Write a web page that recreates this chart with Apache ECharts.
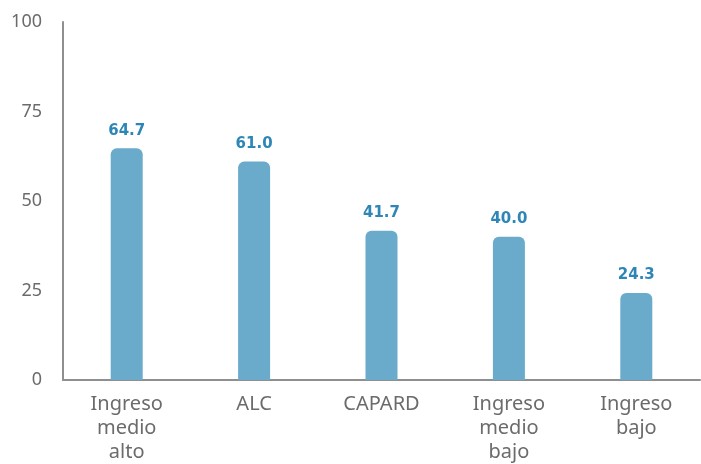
<!DOCTYPE html>
<html><head><meta charset="utf-8">
<script src="https://cdn.jsdelivr.net/npm/echarts@6/dist/echarts.min.js"></script>
<style>html,body{margin:0;padding:0;background:#fff}#c{width:701px;height:464px}</style>
</head><body><div id="c"></div>
<script>
const categories = ["Ingreso\nmedio\nalto", "ALC", "CAPARD", "Ingreso\nmedio\nbajo", "Ingreso\nbajo"];
const values = [64.7, 61.0, 41.7, 40.0, 24.3];
const yTicks = [0, 25, 50, 75, 100];

const chart = echarts.init(document.getElementById('c'), null, {renderer: 'canvas'});
chart.setOption({
  animation: false,
  grid: {left: 63, right: 1, top: 22, bottom: 80, containLabel: false},
  xAxis: {
    type: 'category', data: categories,
    axisLine: {lineStyle: {color: '#8f8f8f', width: 2}},
    axisTick: {show: false},
    axisLabel: {color: '#6b6b6b', fontSize: 20, fontFamily: 'Noto Sans', lineHeight: 24, margin: 12, interval: 0}
  },
  yAxis: {
    type: 'value', min: yTicks[0], max: yTicks[yTicks.length-1], interval: 25,
    axisLine: {show: true, lineStyle: {color: '#8f8f8f', width: 2}},
    axisTick: {show: false},
    splitLine: {show: false},
    axisLabel: {color: '#6b6b6b', fontSize: 18, fontFamily: 'Noto Sans', margin: 21}
  },
  series: [{
    type: 'bar', data: values, barWidth: 32,
    itemStyle: {color: '#6aabcc', borderRadius: [6, 6, 0, 0]},
    label: {show: true, position: 'top', distance: 10, color: '#2e86b7', fontWeight: 'bold', fontSize: 15, fontFamily: 'DejaVu Sans',
      formatter: p => p.value.toFixed(1)}
  }]
});
</script></body></html>
